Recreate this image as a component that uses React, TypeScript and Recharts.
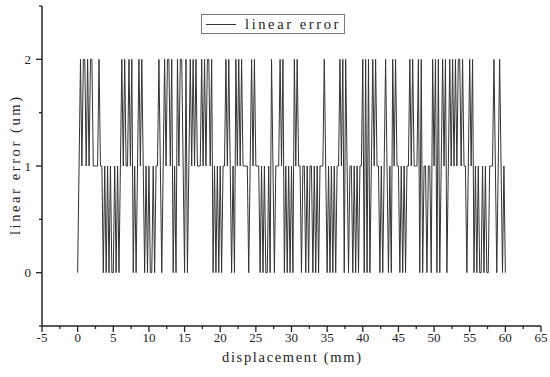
import React from 'react';
import { LineChart, Line, XAxis, YAxis } from 'recharts';

// sampling grid of the measurement (mm)
const startMm = 0;
const stepMm = 0.2;

// linear error (um), 10 mm per block
const error0to10 = [
  0, 1, 2, 1, 2, 2, 1, 2, 1, 2,
  2, 1, 1, 1, 1, 2, 1, 1, 0, 1,
  0, 1, 0, 1, 0, 0, 1, 0, 1, 0,
  1, 2, 1, 2, 1, 1, 2, 1, 2, 0,
  1, 0, 1, 2, 1, 2, 1, 0, 1, 0,
];
const error10to20 = [
  1, 0, 0, 1, 0, 1, 1, 2, 1, 0,
  1, 2, 1, 2, 2, 1, 2, 0, 1, 0,
  2, 1, 2, 2, 1, 0, 2, 0, 1, 2,
  1, 2, 1, 2, 1, 1, 1, 2, 1, 2,
  1, 2, 2, 1, 2, 0, 1, 0, 1, 0,
];
const error20to30 = [
  1, 0, 1, 1, 2, 1, 2, 1, 0, 1,
  0, 2, 1, 2, 1, 2, 1, 1, 1, 1,
  0, 1, 2, 1, 2, 1, 1, 1, 0, 1,
  0, 1, 0, 0, 1, 0, 2, 1, 0, 1,
  1, 1, 2, 1, 2, 0, 1, 0, 1, 0,
];
const error30to40 = [
  1, 0, 2, 1, 2, 1, 1, 0, 1, 1,
  0, 1, 0, 1, 1, 0, 1, 0, 1, 0,
  1, 1, 1, 2, 1, 0, 1, 0, 1, 0,
  1, 0, 1, 1, 2, 1, 2, 0, 2, 1,
  0, 1, 1, 0, 1, 0, 1, 0, 1, 1,
];
const error40to50 = [
  2, 0, 2, 0, 2, 0, 1, 2, 1, 2,
  1, 1, 0, 1, 0, 1, 2, 1, 0, 1,
  0, 2, 1, 2, 1, 1, 0, 1, 0, 1,
  0, 1, 1, 2, 1, 2, 1, 1, 1, 2,
  0, 2, 0, 1, 1, 0, 1, 1, 0, 2,
];
const error50to60 = [
  1, 2, 0, 2, 0, 1, 2, 1, 2, 0,
  1, 2, 1, 2, 1, 2, 1, 2, 2, 1,
  2, 1, 1, 0, 1, 2, 1, 2, 0, 1,
  0, 1, 0, 0, 1, 0, 1, 0, 0, 1,
  1, 1, 2, 1, 0, 1, 2, 1, 0, 1,
  0,
];

const linearError = [
  ...error0to10,
  ...error10to20,
  ...error20to30,
  ...error30to40,
  ...error40to50,
  ...error50to60,
];

const xTicks = [
  -5, -2.5, 0, 2.5, 5, 7.5, 10, 12.5, 15, 17.5, 20, 22.5, 25, 27.5, 30, 32.5,
  35, 37.5, 40, 42.5, 45, 47.5, 50, 52.5, 55, 57.5, 60, 62.5, 65,
];
const yTicks = [-0.5, 0, 0.5, 1, 1.5, 2, 2.5];

const data = linearError.map((v, i) => ({
  x: Number((startMm + i * stepMm).toFixed(1)),
  y: v,
}));

const AXIS = '#222';
const SERIF = '"Liberation Serif", "DejaVu Serif", serif';

const XTick = (props: any) => {
  const { x, y, payload } = props;
  const v = payload.value;
  const major = Math.abs(v / 5 - Math.round(v / 5)) < 1e-6;
  return (
    <g>
      <line x1={x} x2={x} y1={y} y2={y + (major ? 6 : 3)} stroke={AXIS} strokeWidth={1.3} />
      {major && (
        <text x={x} y={y + 16} textAnchor="middle" fontFamily={SERIF} fontSize={13} fill="#222">
          {String(v)}
        </text>
      )}
    </g>
  );
};

const YTick = (props: any) => {
  const { x, y, payload } = props;
  const v = payload.value;
  const major = Math.abs(v - Math.round(v)) < 1e-6;
  return (
    <g>
      <line x1={x} x2={x - (major ? 6 : 3)} y1={y} y2={y} stroke={AXIS} strokeWidth={1.3} />
      {major && (
        <text x={x - 11} y={y + 4.5} textAnchor="end" fontFamily={SERIF} fontSize={13} fill="#222">
          {String(v)}
        </text>
      )}
    </g>
  );
};

const XTitle = (props: any) => {
  const vb = props.viewBox || {};
  return (
    <text
      x={vb.x + vb.width / 2}
      y={vb.y + 36}
      textAnchor="middle"
      fontFamily={SERIF}
      fontSize={14.5}
      textLength={139}
      lengthAdjust="spacing"
      fill="#222"
    >
      displacement (mm)
    </text>
  );
};

const YTitle = (props: any) => {
  const vb = props.viewBox || {};
  const cx = 15;
  const cy = vb.y + vb.height / 2;
  return (
    <text
      x={cx}
      y={cy}
      transform={`rotate(-90 ${cx} ${cy})`}
      textAnchor="middle"
      dominantBaseline="central"
      fontFamily={SERIF}
      fontSize={14.5}
      textLength={138}
      lengthAdjust="spacing"
      fill="#222"
    >
      linear error (um)
    </text>
  );
};

export default function App() {
  return (
    <div style={{ position: 'absolute', left: 0, top: 0, width: 550, height: 377, background: '#fff' }}>
      <LineChart width={550} height={377} data={data} margin={{ top: 6, right: 9, bottom: 0, left: 0 }}>
        <XAxis
          type="number"
          dataKey="x"
          domain={[-5, 65]}
          ticks={xTicks}
          interval={0}
          allowDataOverflow
          height={51}
          tickSize={0}
          tickMargin={0}
          tickLine={false}
          axisLine={{ stroke: AXIS, strokeWidth: 1.5 }}
          tick={<XTick />}
          label={<XTitle />}
        />
        <YAxis
          type="number"
          domain={[-0.5, 2.5]}
          ticks={yTicks}
          interval={0}
          allowDataOverflow
          width={42}
          tickSize={0}
          tickMargin={0}
          tickLine={false}
          axisLine={{ stroke: AXIS, strokeWidth: 1.5 }}
          tick={<YTick />}
          label={<YTitle />}
        />
        <Line
          type="linear"
          dataKey="y"
          stroke="#333"
          strokeWidth={1}
          dot={false}
          isAnimationActive={false}
        />
      </LineChart>
      <div
        style={{
          position: 'absolute',
          left: 201,
          top: 14,
          width: 144,
          height: 20,
          border: '1px solid #777',
          boxSizing: 'border-box',
          background: '#fff',
        }}
      >
        <div
          style={{
            position: 'absolute',
            left: 4,
            top: 9,
            width: 30,
            height: 0,
            borderTop: '1px solid #333',
          }}
        />
        <div
          style={{
            position: 'absolute',
            left: 43,
            top: 0,
            lineHeight: '18px',
            fontFamily: SERIF,
            fontSize: 14.5,
            letterSpacing: '2.6px',
            color: '#222',
            whiteSpace: 'nowrap',
          }}
        >
          linear error
        </div>
      </div>
    </div>
  );
}
